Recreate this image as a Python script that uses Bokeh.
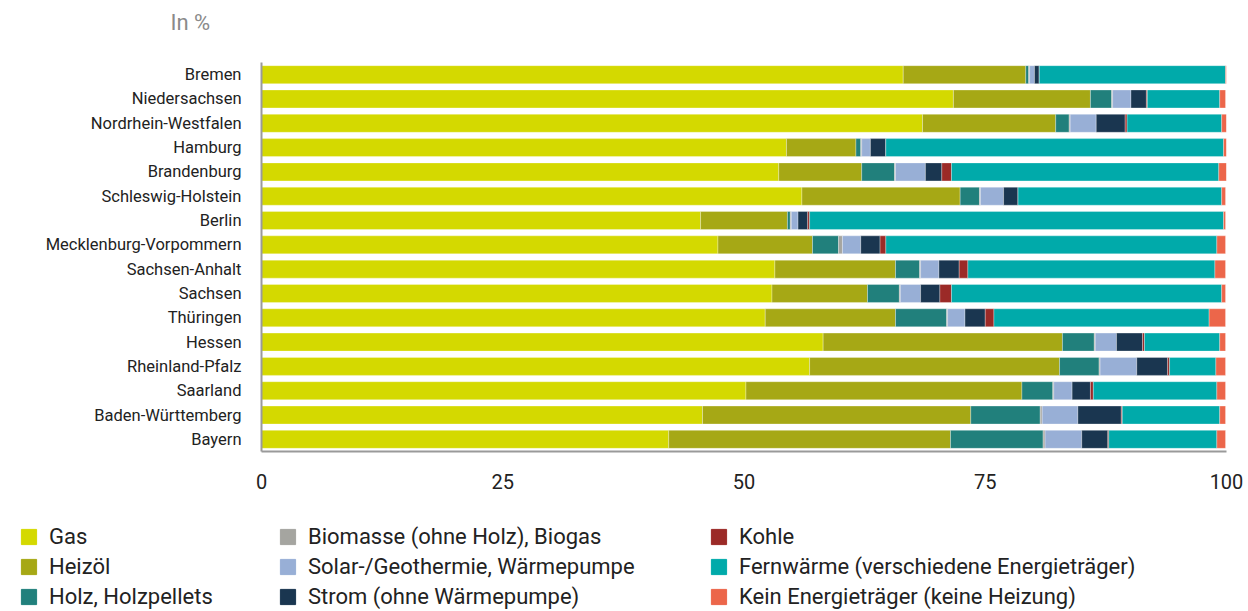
from bokeh.plotting import figure
from bokeh.models import ColumnDataSource, FactorRange, Range1d, FixedTicker, Legend, LegendItem, Label
from bokeh.layouts import column
from bokeh.embed import file_html
from bokeh.resources import INLINE

states = ["Bremen", "Niedersachsen", "Nordrhein-Westfalen", "Hamburg", "Brandenburg",
          "Schleswig-Holstein", "Berlin", "Mecklenburg-Vorpommern", "Sachsen-Anhalt",
          "Sachsen", "Thüringen", "Hessen", "Rheinland-Pfalz", "Saarland",
          "Baden-Württemberg", "Bayern"]

gas       = [66.5, 71.7, 68.5, 54.4, 53.6, 56.0, 45.5, 47.3, 53.2, 52.9, 52.2, 58.2, 56.8, 50.2, 45.7, 42.2]
heizoel   = [12.7, 14.2, 13.8,  7.2,  8.6, 16.4,  9.0,  9.8, 12.5,  9.9, 13.5, 24.8, 25.9, 28.6, 27.8, 29.2]
holz      = [ 0.3,  2.2,  1.4,  0.5,  3.4,  2.0,  0.3,  2.7,  2.5,  3.3,  5.3,  3.3,  4.1,  3.2,  7.2,  9.6]
biomasse  = [ 0.1,  0.1,  0.1,  0.1,  0.1,  0.1,  0.1,  0.4,  0.1,  0.1,  0.1,  0.1,  0.1,  0.1,  0.2,  0.2]
solar     = [ 0.5,  1.9,  2.7,  0.9,  3.1,  2.4,  0.7,  1.9,  1.9,  2.1,  1.8,  2.2,  3.8,  1.9,  3.7,  3.8]
strom     = [ 0.5,  1.6,  3.0,  1.6,  1.7,  1.5,  1.0,  2.0,  2.1,  2.0,  2.1,  2.7,  3.2,  1.9,  4.5,  2.7]
kohle     = [ 0.0,  0.1,  0.2,  0.0,  1.0,  0.0,  0.2,  0.6,  0.9,  1.2,  0.9,  0.2,  0.2,  0.3,  0.1,  0.1]
fernwaerme= [19.3,  7.5,  9.8, 35.0, 27.7, 21.1, 42.9, 34.3, 25.6, 28.0, 22.3,  7.8,  4.8, 12.8, 10.1, 11.2]
kein      = [ 0.2,  0.6,  0.5,  0.3,  0.8,  0.4,  0.2,  0.9,  1.1,  0.4,  1.7,  0.6,  1.0,  0.9,  0.6,  0.9]

series_keys = ["gas", "heizoel", "holz", "biomasse", "solar", "strom", "kohle", "fernwaerme", "kein"]
series_labels = ["Gas", "Heizöl", "Holz, Holzpellets", "Biomasse (ohne Holz), Biogas",
                 "Solar-/Geothermie, Wärmepumpe", "Strom (ohne Wärmepumpe)", "Kohle",
                 "Fernwärme (verschiedene Energieträger)", "Kein Energieträger (keine Heizung)"]
colors = ["#d4d900", "#a6a815", "#21807c", "#a5a5a0", "#98afd6", "#1a3650", "#9b2a27", "#00aaaa", "#ec664a"]
x_ticks = [0, 25, 50, 75, 100]
unit_text = "In %"

source = ColumnDataSource(dict(state=states, gas=gas, heizoel=heizoel, holz=holz, biomasse=biomasse,
                               solar=solar, strom=strom, kohle=kohle, fernwaerme=fernwaerme, kein=kein))

FONT = "Roboto"
W = 1244
TOP_H = 40
MAIN_H = 470
LEG_H = 101


def bare(fig):
    fig.xgrid.visible = False
    fig.ygrid.visible = False
    fig.outline_line_color = None
    fig.frame_align = False
    return fig


# --- unit line above the chart ---
top = bare(figure(width=W, height=TOP_H, output_backend="svg", toolbar_location=None,
                  x_range=Range1d(0, W), y_range=Range1d(TOP_H, 0),
                  x_axis_type=None, y_axis_type=None,
                  min_border_left=0, min_border_right=0, min_border_top=0, min_border_bottom=0))
top.add_layout(Label(x=170, y=22, text=unit_text, text_font=FONT, text_font_size="22px",
                     text_color="#8a8a8a", text_baseline="middle", text_align="left"))

# --- main chart ---
p = bare(figure(width=W, height=MAIN_H,
                y_range=FactorRange(factors=states[::-1]),
                x_range=Range1d(0, 100),
                output_backend="svg", toolbar_location=None,
                min_border_left=261, min_border_right=18, min_border_top=62 - TOP_H, min_border_bottom=59))

p.hbar_stack(series_keys, y="state", height=0.74, color=colors, source=source,
             line_color="white", line_width=0.6, line_alpha=0.5)

p.xaxis.ticker = FixedTicker(ticks=x_ticks)
p.xaxis.major_tick_line_color = None
p.xaxis.minor_tick_line_color = None
p.xaxis.axis_line_color = "#9a9a9a"
p.xaxis.axis_line_width = 2
p.xaxis.major_label_text_font = FONT
p.xaxis.major_label_text_font_size = "20px"
p.xaxis.major_label_text_color = "#222222"
p.xaxis.major_label_standoff = 16

p.yaxis.major_tick_line_color = None
p.yaxis.minor_tick_line_color = None
p.yaxis.axis_line_color = "#9a9a9a"
p.yaxis.axis_line_width = 2
p.yaxis.major_label_text_font = FONT
p.yaxis.major_label_text_font_size = "16.5px"
p.yaxis.major_label_text_color = "#222222"
p.yaxis.major_label_standoff = 14

# --- legend panel below the chart (its bars use a category range they are not on, so only the legend shows) ---
lp = bare(figure(width=W, height=LEG_H, output_backend="svg", toolbar_location=None,
                 x_range=Range1d(0, 100), y_range=FactorRange(factors=["legend"]),
                 x_axis_type=None, y_axis_type=None,
                 min_border_left=0, min_border_right=0, min_border_top=0, min_border_bottom=0))
legend_renderers = lp.hbar_stack(series_keys, y="state", height=0.74, color=colors, source=source)

col_x = [19, 278, 709]
for c in range(3):
    items = [LegendItem(label=series_labels[i], renderers=[legend_renderers[i]]) for i in range(c * 3, c * 3 + 3)]
    leg = Legend(items=items, location=(col_x[c], 2), orientation="vertical",
                 padding=0, margin=0, spacing=5, label_height=20, glyph_height=19, glyph_width=19,
                 label_standoff=11, label_text_font=FONT, label_text_font_size="22px",
                 label_text_color="#222222", border_line_alpha=0, background_fill_alpha=0)
    lp.add_layout(leg, "center")

open("out.html", "w").write(file_html(column(top, p, lp, spacing=0), INLINE))
